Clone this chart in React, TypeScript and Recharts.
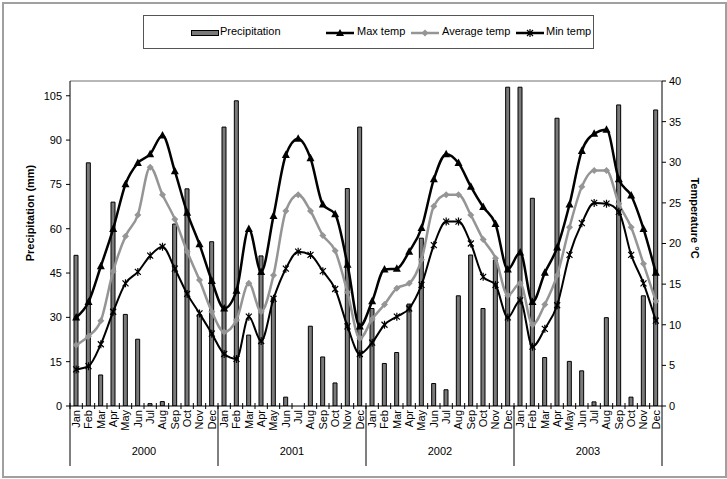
import React from 'react';
import {
  ComposedChart,
  Bar,
  Line,
  XAxis,
  YAxis,
  ReferenceLine,
} from 'recharts';

const YEARS = ['2000', '2001', '2002', '2003'];
const MONTHS = ['Jan', 'Feb', 'Mar', 'Apr', 'May', 'Jun', 'Jul', 'Aug', 'Sep', 'Oct', 'Nov', 'Dec'];

// precipitation (mm), Jan 2000 .. Dec 2003
const precipitation = [
  51, 82.3, 10.5, 69, 31, 22.6, 0.8, 1.5, 61.6, 73.5, 31, 55.6,
  94.4, 103.3, 24, 50.8, 36.4, 3, 0, 27, 16.6, 7.8, 73.6, 94.4,
  33, 14.4, 18.1, 34.5, 56.8, 7.6, 5.5, 37.3, 51.1, 33, 49.4, 107.9,
  107.9, 70.3, 16.4, 97.4, 15.1, 11.9, 1.4, 29.9, 101.9, 3, 37.3, 100.2,
];

const maxTemp = [
  10.9, 12.8, 17.2, 21.8, 27.3, 29.9, 31, 33.3, 28.9, 23.8, 19.9, 15.4,
  12, 14.2, 21.8, 16.5, 23.4, 30.9, 32.9, 30.5, 24.8, 23.6, 17.4, 9.8,
  12.9, 16.8, 16.9, 19, 21.9, 27.9, 31, 29.9, 27, 24.5, 22.4, 16.8,
  18.9, 12.8, 16.4, 19.5, 24.8, 31.4, 33.5, 34, 27.9, 25.9, 21.8, 16.4,
];

const avgTemp = [
  7.5, 8.6, 10.5, 16.6, 20.9, 23.5, 29.4, 26, 23, 19, 15.5, 11.6,
  9.1, 10.6, 15.1, 11.6, 16.1, 24, 26, 24, 21, 19.1, 14, 8.3,
  10.7, 12.5, 14.5, 15.1, 18, 24.6, 26, 26, 23.5, 20.5, 18.2, 13.6,
  15.1, 10, 12.5, 16.1, 22, 27, 29, 29, 24.9, 22, 17.5, 12.9,
];

const minTemp = [
  4.5, 4.9, 7.6, 11.6, 15.1, 16.5, 18.5, 19.6, 16.9, 13.8, 11.4, 8.9,
  6.4, 5.8, 11, 8, 13.2, 16.9, 19, 18.6, 16.6, 14.4, 9.8, 6.4,
  7.8, 10, 11, 12, 14.9, 19.8, 22.7, 22.7, 20, 15.9, 14.9, 10.9,
  13, 7.3, 9.5, 12.4, 18.6, 22.5, 25, 24.9, 23.9, 18.6, 15.1, 10.5,
];

const precipTicks = [0, 15, 30, 45, 60, 75, 90, 105];
const tempTicks = [0, 5, 10, 15, 20, 25, 30, 35, 40];

const data = precipitation.map((p, i) => ({
  key: `${YEARS[Math.floor(i / 12)]}-${MONTHS[i % 12]}`,
  precip: p,
  max: maxTemp[i],
  avg: avgTemp[i],
  min: minTemp[i],
}));

const FONT = '"Liberation Sans", Arial, sans-serif';
const W = 727;
const H = 479;
const MARGIN = { top: 81, right: 25, bottom: 3, left: 30 };
const Y_W = 40;
const PLOT_W = W - MARGIN.left - MARGIN.right - 2 * Y_W;
const STEP = PLOT_W / data.length;
const GRAY = '#959595';

const MonthTick = (props: any) => {
  const { x, y, index } = props;
  const m = index % 12;
  const yr = YEARS[Math.floor(index / 12)];
  return (
    <g>
      <line x1={x - STEP / 2} x2={x - STEP / 2} y1={y - 3} y2={y + 3} stroke="#000" />
      {m === 11 && <line x1={x + STEP / 2} x2={x + STEP / 2} y1={y} y2={y + 60} stroke="#000" />}
      {m === 0 && index === 0 && <line x1={x - STEP / 2} x2={x - STEP / 2} y1={y} y2={y + 60} stroke="#000" />}
      <text
        transform={`translate(${x},${y + 4}) rotate(-90)`}
        textAnchor="end"
        dy="0.35em"
        fontSize={11}
        fontFamily={FONT}
        fill="#000"
      >
        {MONTHS[m]}
      </text>
      {m === 5 && (
        <text x={x + STEP / 2} y={y + 49} textAnchor="middle" fontSize={11} fontFamily={FONT} fill="#000">
          {yr}
        </text>
      )}
    </g>
  );
};

const triangle = (props: any) => {
  const { cx, cy, index } = props;
  return <path key={`t${index}`} d={`M${cx},${cy - 4.5}L${cx + 4},${cy + 3}L${cx - 4},${cy + 3}Z`} fill="#000" />;
};

const diamond = (props: any) => {
  const { cx, cy, index } = props;
  return <path key={`d${index}`} d={`M${cx},${cy - 3.5}L${cx + 3.5},${cy}L${cx},${cy + 3.5}L${cx - 3.5},${cy}Z`} fill={GRAY} />;
};

const star = (props: any) => {
  const { cx, cy, index } = props;
  return (
    <path
      key={`s${index}`}
      d={`M${cx - 3},${cy - 3}L${cx + 3},${cy + 3}M${cx + 3},${cy - 3}L${cx - 3},${cy + 3}M${cx},${cy - 4}L${cx},${cy + 4}`}
      stroke="#000"
      strokeWidth={1.2}
      fill="none"
    />
  );
};

const legendText: React.CSSProperties = { position: 'absolute', top: 9, fontSize: 11, fontFamily: FONT, color: '#000' };

function LineSample({ color, marker }: { color: string; marker: React.ReactNode }) {
  return (
    <svg width={28} height={10} style={{ position: 'absolute', top: 12 }}>
      <line x1={0} x2={28} y1={5} y2={5} stroke={color} strokeWidth={2.5} />
      {marker}
    </svg>
  );
}

export default function App() {
  return (
    <div style={{ position: 'absolute', left: 0, top: 0, width: W, height: H, background: '#fff', fontFamily: FONT }}>
      <div style={{ position: 'absolute', left: 2, top: 2, width: W - 6, height: H - 7, border: '2px solid #a0a0a0' }} />

      {/* legend */}
      <div style={{ position: 'absolute', left: 143, top: 15, width: 449, height: 32, border: '1px solid #555' }}>
        <div style={{ position: 'absolute', left: 47, top: 14, width: 26, height: 4, background: '#7a7a7a', border: '1px solid #000' }} />
        <span style={{ ...legendText, left: 76 }}>Precipitation</span>
        <div style={{ position: 'absolute', left: 182 }}>
          <LineSample color="#000" marker={<path d="M14,1L18,8L10,8Z" fill="#000" />} />
        </div>
        <span style={{ ...legendText, left: 213 }}>Max temp</span>
        <div style={{ position: 'absolute', left: 267 }}>
          <LineSample color={GRAY} marker={<path d="M14,1.5L17.5,5L14,8.5L10.5,5Z" fill={GRAY} />} />
        </div>
        <span style={{ ...legendText, left: 298 }}>Average temp</span>
        <div style={{ position: 'absolute', left: 372 }}>
          <LineSample color="#000" marker={<path d="M11,2L17,8M17,2L11,8M14,1L14,9" stroke="#000" strokeWidth={1.2} />} />
        </div>
        <span style={{ ...legendText, left: 402 }}>Min temp</span>
      </div>

      {/* axis titles */}
      <svg width={W} height={H} style={{ position: 'absolute', left: 0, top: 0, pointerEvents: 'none' }}>
        <text transform="translate(30,213) rotate(-90)" textAnchor="middle" dy="0.35em" fontSize={11} fontWeight="bold" fontFamily={FONT}>
          Precipitation (mm)
        </text>
        <text transform="translate(695,218) rotate(90)" textAnchor="middle" dy="0.35em" fontSize={11} fontWeight="bold" fontFamily={FONT}>
          Temperature °C
        </text>
      </svg>

      <div style={{ position: 'absolute', left: 0, top: 0 }}>
        <ComposedChart width={W} height={H} data={data} margin={MARGIN}>
          <XAxis
            dataKey="key"
            interval={0}
            height={70}
            tick={MonthTick}
            tickLine={false}
            tickSize={0}
            tickMargin={0}
            axisLine={{ stroke: '#000' }}
          />
          <YAxis
            yAxisId="left"
            orientation="left"
            width={Y_W}
            domain={[0, 110]}
            ticks={precipTicks}
            allowDataOverflow
            tick={{ fontSize: 11, fill: '#000', fontFamily: FONT }}
            tickSize={4}
            tickMargin={4}
            axisLine={{ stroke: '#000' }}
            tickLine={{ stroke: '#000' }}
          />
          <YAxis
            yAxisId="right"
            orientation="right"
            width={Y_W}
            domain={[0, 40]}
            ticks={tempTicks}
            tick={{ fontSize: 11, fill: '#000', fontFamily: FONT }}
            tickSize={4}
            tickMargin={3}
            axisLine={{ stroke: '#000' }}
            tickLine={{ stroke: '#000' }}
          />
          <ReferenceLine yAxisId="left" y={110} stroke="#a0a0a0" strokeWidth={1.5} />
          <Bar
            yAxisId="left"
            dataKey="precip"
            name="Precipitation"
            barSize={4}
            fill="#7a7a7a"
            stroke="#000"
            strokeWidth={1}
            isAnimationActive={false}
          />
          <Line
            yAxisId="right"
            type="monotone"
            dataKey="max"
            name="Max temp"
            stroke="#000"
            strokeWidth={2.5}
            dot={triangle}
            activeDot={false}
            isAnimationActive={false}
          />
          <Line
            yAxisId="right"
            type="monotone"
            dataKey="avg"
            name="Average temp"
            stroke={GRAY}
            strokeWidth={2.5}
            dot={diamond}
            activeDot={false}
            isAnimationActive={false}
          />
          <Line
            yAxisId="right"
            type="monotone"
            dataKey="min"
            name="Min temp"
            stroke="#000"
            strokeWidth={2}
            dot={star}
            activeDot={false}
            isAnimationActive={false}
          />
        </ComposedChart>
      </div>
    </div>
  );
}
